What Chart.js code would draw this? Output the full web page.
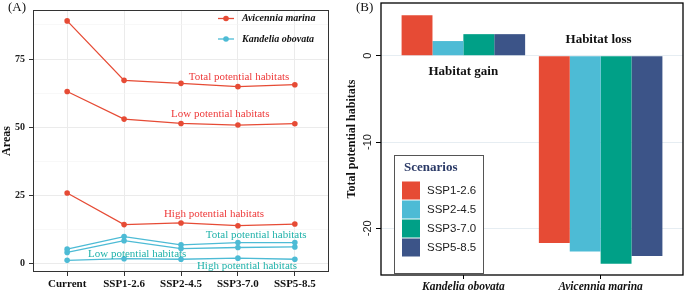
<!DOCTYPE html>
<html>
<head>
<meta charset="utf-8">
<script src="https://cdn.jsdelivr.net/npm/chart.js@4.4.1/dist/chart.umd.min.js"></script>
<style>
  body { margin: 0; background: #fff; }
  #wrap { position: relative; width: 685px; height: 293px; }
  .panel { position: absolute; top: 0; height: 293px; }
  #panelA { left: 0; width: 340px; }
  #panelB { left: 340px; width: 345px; }
</style>
</head>
<body>
<div id="wrap">
  <div class="panel" id="panelA"><canvas id="chartA"></canvas></div>
  <div class="panel" id="panelB"><canvas id="chartB"></canvas></div>
</div>
<script>
// ---- data (A): habitat areas per scenario ----
const scenarios = ['Current', 'SSP1-2.6', 'SSP2-4.5', 'SSP3-7.0', 'SSP5-8.5'];
const amTotal = [89.0, 67.2, 66.1, 64.9, 65.6];
const amLow = [63.1, 53.0, 51.4, 50.8, 51.3];
const amHigh = [25.9, 14.3, 14.9, 13.9, 14.5];
const koTotal = [5.3, 9.9, 6.9, 7.7, 7.7];
const koLow = [4.1, 8.4, 5.5, 5.9, 6.1];
const koHigh = [1.2, 1.8, 1.6, 2.0, 1.6];
const areaTicks = [0, 25, 50, 75];

// ---- data (B): change in total potential habitats ----
const species = ['Kandelia obovata', 'Avicennia marina'];
const scenarioNames = ['SSP1-2.6', 'SSP2-4.5', 'SSP3-7.0', 'SSP5-8.5'];
const ssp126 = [4.7, -21.7];
const ssp245 = [1.7, -22.7];
const ssp370 = [2.5, -24.1];
const ssp585 = [2.5, -23.2];
const changeTicks = [0, -10, -20];

const RED = '#E64B35';
const TEAL = '#4DBBD5';
const RED_TXT = '#EE3B3B';
const TEAL_TXT = '#20B2AA';
const SERIF = '"Liberation Serif", "Times New Roman", serif';
const SANS = '"Liberation Sans", Arial, sans-serif';

function toXY(values) {
    return values.map((v, i) => ({ x: i, y: v }));
}

function lineSet(values, color) {
    return {
        data: toXY(values),
        borderColor: color,
        backgroundColor: color,
        borderWidth: 1.3,
        pointRadius: 2.8,
        pointBorderWidth: 0,
        pointBackgroundColor: color,
        tension: 0
    };
}

// Text labels of panel A, anchored in data units
const lineLabels = [
    { text: 'Total potential habitats', x: 3.02, y: 68.5, color: RED_TXT },
    { text: 'Low potential habitats', x: 2.69, y: 55.0, color: RED_TXT },
    { text: 'High potential habitats', x: 2.58, y: 18.2, color: RED_TXT },
    { text: 'Total potential habitats', x: 3.32, y: 10.4, color: TEAL_TXT },
    { text: 'Low potential habitats', x: 1.23, y: 3.65, color: TEAL_TXT },
    { text: 'High potential habitats', x: 3.16, y: -1.0, color: TEAL_TXT }
];

const panelAExtras = {
    id: 'panelAExtras',
    afterDraw(chart) {
        const ctx = chart.ctx;
        const area = chart.chartArea;
        const xs = chart.scales.x, ys = chart.scales.y;
        ctx.save();
        // panel border
        ctx.strokeStyle = '#333';
        ctx.lineWidth = 1;
        ctx.strokeRect(area.left + 0.5, area.top + 0.5, area.right - area.left - 1, area.bottom - area.top - 1);

        // line labels
        ctx.font = '11px ' + SERIF;
        ctx.textAlign = 'center';
        ctx.textBaseline = 'middle';
        lineLabels.forEach(l => {
            ctx.fillStyle = l.color;
            ctx.fillText(l.text, xs.getPixelForValue(l.x), ys.getPixelForValue(l.y));
        });

        // legend
        const items = [['Avicennia marina', RED], ['Kandelia obovata', TEAL]];
        ctx.textAlign = 'left';
        ctx.font = 'italic bold 10px ' + SERIF;
        items.forEach((it, i) => {
            const y = 18.5 + i * 20.5;
            const x0 = area.right - 111;
            ctx.strokeStyle = it[1];
            ctx.lineWidth = 1.3;
            ctx.beginPath();
            ctx.moveTo(x0, y);
            ctx.lineTo(x0 + 16, y);
            ctx.stroke();
            ctx.fillStyle = it[1];
            ctx.beginPath();
            ctx.arc(x0 + 8, y, 2.8, 0, Math.PI * 2);
            ctx.fill();
            ctx.fillStyle = '#111';
            ctx.fillText(it[0], x0 + 24, y);
        });

        // panel tag
        ctx.font = '13px ' + SERIF;
        ctx.fillStyle = '#111';
        ctx.fillText('(A)', 8, 8);
        ctx.restore();
    }
};

new Chart(document.getElementById('chartA'), {
    type: 'line',
    data: {
        datasets: [
            lineSet(amTotal, RED), lineSet(amLow, RED), lineSet(amHigh, RED),
            lineSet(koTotal, TEAL), lineSet(koLow, TEAL), lineSet(koHigh, TEAL)
        ]
    },
    options: {
        responsive: true,
        maintainAspectRatio: false,
        animation: false,
        layout: { padding: { top: 1, right: 11, left: 0, bottom: 0 } },
        plugins: { legend: { display: false }, tooltip: { enabled: false } },
        scales: {
            x: {
                type: 'linear',
                min: -0.6,
                max: 4.6,
                afterBuildTicks: s => { s.ticks = scenarios.map((_, i) => ({ value: i })); },
                afterFit: s => { s.height = 21; },
                border: { display: false },
                grid: { color: '#EBEBEB', lineWidth: 1, tickLength: 4, tickColor: '#333' },
                ticks: {
                    padding: 2,
                    maxRotation: 0,
                    autoSkip: false,
                    color: '#111',
                    font: { family: SERIF, size: 11, weight: 'bold' },
                    callback: v => scenarios[v]
                }
            },
            y: {
                min: -3.08,
                max: 93.0,
                afterBuildTicks: s => {
                    const t = [];
                    areaTicks.forEach(v => { t.push({ value: v }); t.push({ value: v + 12.5, minor: true }); });
                    s.ticks = t.sort((a, b) => a.value - b.value);
                },
                afterFit: s => { s.width = 33; },
                border: { display: false },
                grid: {
                    color: c => (c.tick && areaTicks.includes(c.tick.value)) ? '#EBEBEB' : '#F4F4F4',
                    lineWidth: c => (c.tick && areaTicks.includes(c.tick.value)) ? 1 : 0.6,
                    tickLength: 4,
                    tickColor: c => (c.tick && areaTicks.includes(c.tick.value)) ? '#333' : 'rgba(0,0,0,0)'
                },
                ticks: {
                    padding: 4,
                    color: '#222',
                    font: { family: SERIF, size: 10, weight: 'bold' },
                    callback: v => areaTicks.includes(v) ? String(v) : ''
                },
                title: {
                    display: true,
                    text: 'Areas',
                    color: '#111',
                    padding: { top: 0, bottom: 0 },
                    font: { family: SERIF, size: 12, weight: 'bold' }
                }
            }
        }
    },
    plugins: [panelAExtras]
});

// ---- panel B ----
const barColors = ['#E64B35', '#4DBBD5', '#00A087', '#3C5488'];
const barValues = [ssp126, ssp245, ssp370, ssp585];

const panelBExtras = {
    id: 'panelBExtras',
    afterDraw(chart) {
        const ctx = chart.ctx;
        const area = chart.chartArea;
        const xs = chart.scales.x, ys = chart.scales.y;
        ctx.save();
        // panel border
        ctx.strokeStyle = '#000';
        ctx.lineWidth = 1.3;
        ctx.strokeRect(area.left, area.top, area.right - area.left, area.bottom - area.top);

        // rotated y tick labels
        ctx.font = '11px ' + SANS;
        ctx.fillStyle = '#222';
        ctx.textAlign = 'center';
        ctx.textBaseline = 'middle';
        changeTicks.forEach(v => {
            ctx.save();
            ctx.translate(area.left - 13, ys.getPixelForValue(v));
            ctx.rotate(-Math.PI / 2);
            ctx.fillText(String(v), 0, 0);
            ctx.restore();
        });

        // annotations
        ctx.font = 'bold 13px ' + SERIF;
        ctx.fillStyle = '#111';
        ctx.fillText('Habitat gain', xs.getPixelForValue(0), ys.getPixelForValue(-1.9));
        ctx.fillText('Habitat loss', xs.getPixelForValue(0.985), ys.getPixelForValue(1.9));

        // legend box
        const bx = area.left + 13, by = area.bottom - 120, bw = 89, bh = 118;
        ctx.fillStyle = '#fff';
        ctx.fillRect(bx, by, bw, bh);
        ctx.strokeStyle = '#555';
        ctx.lineWidth = 1;
        ctx.strokeRect(bx + 0.5, by + 0.5, bw, bh);
        ctx.textAlign = 'left';
        ctx.fillStyle = '#2B3A67';
        ctx.font = 'bold 13px ' + SERIF;
        ctx.fillText('Scenarios', bx + 10, by + 13);
        ctx.font = '11.5px ' + SANS;
        scenarioNames.forEach((name, i) => {
            const cy = by + 35.5 + i * 19;
            ctx.fillStyle = barColors[i];
            ctx.fillRect(bx + 8, cy - 9, 18, 18);
            ctx.fillStyle = '#222';
            ctx.fillText(name, bx + 33, cy + 0.5);
        });

        ctx.font = '13px ' + SERIF;
        ctx.fillStyle = '#111';
        ctx.fillText('(B)', 16, 7.5);
        ctx.restore();
    }
};

new Chart(document.getElementById('chartB'), {
    type: 'bar',
    data: {
        datasets: scenarioNames.map((name, i) => ({
            label: name,
            data: toXY(barValues[i]),
            backgroundColor: barColors[i],
            borderWidth: 0,
            categoryPercentage: 0.9,
            barPercentage: 1
        }))
    },
    options: {
        responsive: true,
        maintainAspectRatio: false,
        animation: false,
        layout: { padding: { top: 3, right: 2, left: 0, bottom: 0 } },
        plugins: { legend: { display: false }, tooltip: { enabled: false } },
        scales: {
            x: {
                type: 'linear',
                offset: false,
                min: -0.6,
                max: 1.6,
                afterBuildTicks: s => { s.ticks = species.map((_, i) => ({ value: i })); },
                afterFit: s => { s.height = 18; },
                border: { display: false },
                grid: { display: true, offset: false, drawOnChartArea: false, tickLength: 4, tickColor: '#000' },
                ticks: {
                    padding: 1,
                    maxRotation: 0,
                    autoSkip: false,
                    color: '#111',
                    font: { family: SERIF, size: 11.5, weight: 'bold', style: 'italic' },
                    callback: v => species[v]
                }
            },
            y: {
                min: -25.41,
                max: 6.11,
                afterBuildTicks: s => { s.ticks = changeTicks.map(v => ({ value: v })); },
                afterFit: s => { s.width = 41; },
                border: { display: false },
                grid: { color: '#E6EDF2', lineWidth: 1, tickLength: 5, tickColor: '#000' },
                ticks: { display: false },
                title: {
                    display: true,
                    text: 'Total potential habitats',
                    color: '#111',
                    padding: { top: 5, bottom: 0 },
                    font: { family: SERIF, size: 12, weight: 'bold' }
                }
            }
        }
    },
    plugins: [panelBExtras]
});
</script>
</body>
</html>
